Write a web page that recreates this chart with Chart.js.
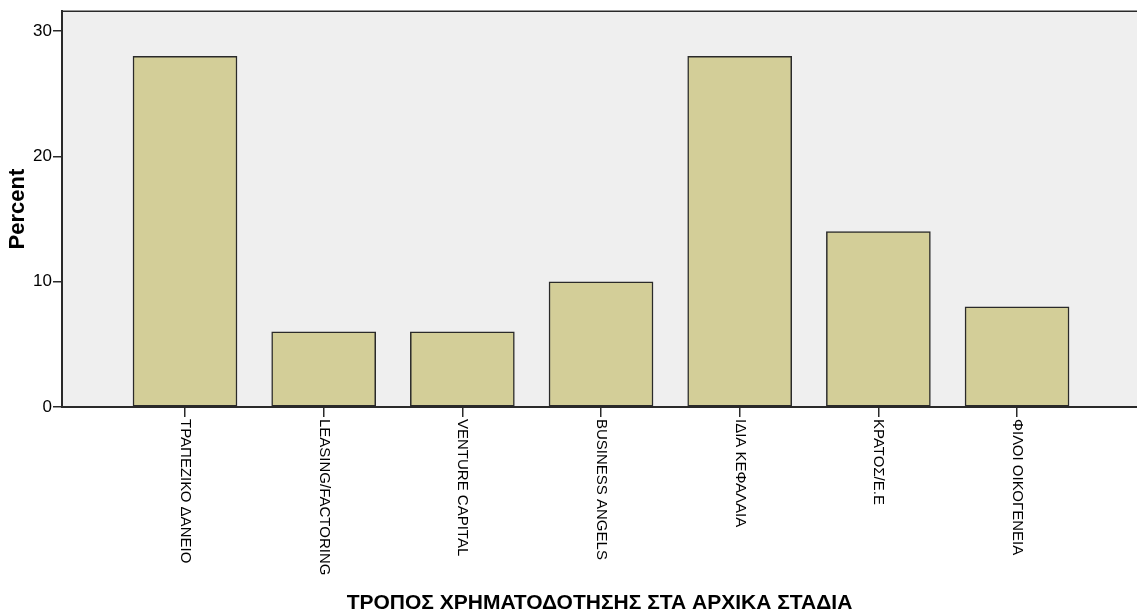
<!DOCTYPE html>
<html>
<head>
<meta charset="utf-8">
<title>ΤΡΟΠΟΣ ΧΡΗΜΑΤΟΔΟΤΗΣΗΣ ΣΤΑ ΑΡΧΙΚΑ ΣΤΑΔΙΑ</title>
<script src="https://cdn.jsdelivr.net/npm/chart.js@4.4.1/dist/chart.umd.min.js"></script>
<style>
  html, body { margin: 0; padding: 0; background: #fff; }
  canvas { display: block; }
</style>
</head>
<body>
<canvas id="chart" width="1137" height="616"></canvas>
<script>
/* --- data --- */
const CATEGORIES = [
  "ΤΡΑΠΕΖΙΚΟ ΔΑΝΕΙΟ",
  "LEASING/FACTORING",
  "VENTURE CAPITAL",
  "BUSINESS ANGELS",
  "ΙΔΙΑ ΚΕΦΑΛΑΙΑ",
  "ΚΡΑΤΟΣ/Ε.Ε",
  "ΦΙΛΟΙ ΟΙΚΟΓΕΝΕΙΑ",
];
const PERCENT = [28, 6, 6, 10, 28, 14, 8];
const Y_TICKS = [0, 10, 20, 30];
const X_TITLE = "ΤΡΟΠΟΣ ΧΡΗΜΑΤΟΔΟΤΗΣΗΣ ΣΤΑ ΑΡΧΙΚΑ ΣΤΑΔΙΑ";
const Y_TITLE = "Percent";

const FONT = "'Liberation Sans', Arial, sans-serif";
const INK = "#000";
const LINE = "#2a2a2a";
const PLOT_BG = "#EFEFEF";
const BAR_FILL = "#D3CE98";

/* plot background, top frame line and the vertical category labels */
const spssFrame = {
  id: "spssFrame",
  beforeDraw(chart) {
    const { ctx, chartArea: a } = chart;
    ctx.save();
    ctx.fillStyle = PLOT_BG;
    ctx.fillRect(a.left, a.top, a.right - a.left, a.bottom - a.top);
    ctx.restore();
  },
  afterDraw(chart) {
    const { ctx, chartArea: a } = chart;
    const xs = chart.scales.x;
    ctx.save();
    ctx.strokeStyle = LINE;
    ctx.lineWidth = 1.5;
    ctx.beginPath();
    ctx.moveTo(a.left, a.top);
    ctx.lineTo(a.right, a.top);
    ctx.stroke();

    // SPSS writes the category names top-to-bottom, so rotate clockwise
    ctx.fillStyle = INK;
    ctx.font = "15px " + FONT;
    ctx.textAlign = "left";
    ctx.textBaseline = "middle";
    CATEGORIES.forEach((label, i) => {
      ctx.save();
      ctx.translate(xs.getPixelForValue(i), a.bottom + 12);
      ctx.rotate(Math.PI / 2);
      ctx.fillText(label, 0, 0);
      ctx.restore();
    });
    ctx.restore();
  },
};

new Chart(document.getElementById("chart"), {
  type: "bar",
  data: {
    datasets: [
      {
        data: CATEGORIES.map((c, i) => ({ x: i, y: PERCENT[i] })),
        backgroundColor: BAR_FILL,
        borderColor: LINE,
        borderWidth: 1.5,
        borderSkipped: false,
        barThickness: 104,
      },
    ],
  },
  options: {
    responsive: false,
    animation: false,
    layout: { padding: { top: 11, right: 0, left: 0, bottom: 0 } },
    plugins: { legend: { display: false }, tooltip: { enabled: false } },
    scales: {
      x: {
        type: "linear",
        offset: false,
        min: -0.887,
        max: 6.865,
        afterBuildTicks: (s) => { s.ticks = CATEGORIES.map((c, i) => ({ value: i })); },
        afterFit: (s) => { s.height = 209; },
        ticks: { display: false },
        grid: { offset: false, drawOnChartArea: false, tickLength: 10, color: LINE, lineWidth: 1.5 },
        border: { color: LINE, width: 2 },
        title: {
          display: true,
          text: X_TITLE,
          color: INK,
          font: { family: FONT, size: 21, weight: "bold" },
          padding: { top: 0, bottom: 0 },
        },
      },
      y: {
        min: 0,
        max: 31.6,
        afterBuildTicks: (s) => { s.ticks = Y_TICKS.map((v) => ({ value: v })); },
        afterFit: (s) => { s.width = 62; },
        ticks: { color: INK, padding: 1, font: { family: FONT, size: 17 } },
        grid: { drawOnChartArea: false, tickLength: 9, color: LINE, lineWidth: 1.5 },
        border: { color: LINE, width: 2 },
        title: {
          display: true,
          text: Y_TITLE,
          color: INK,
          font: { family: FONT, size: 22, weight: "bold" },
          padding: { top: 5, bottom: 0 },
        },
      },
    },
  },
  plugins: [spssFrame],
});
</script>
</body>
</html>
